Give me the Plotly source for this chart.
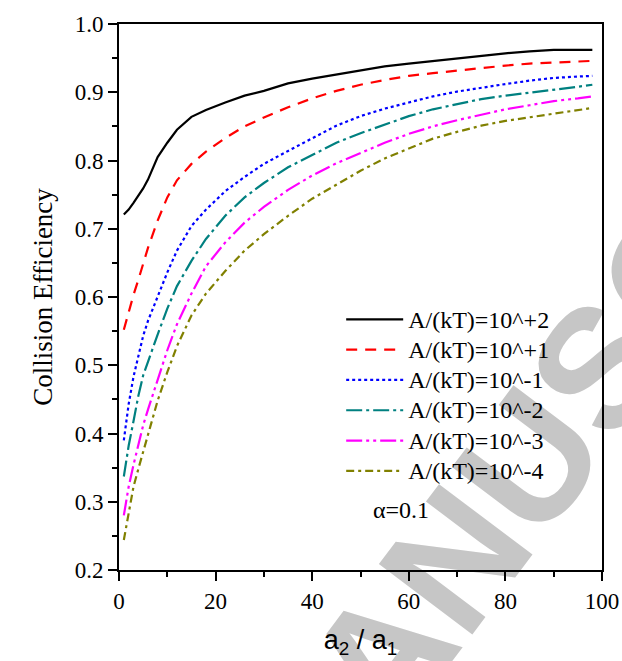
import plotly.graph_objects as go

# ---- data ----
x_ratio = [1, 2, 3, 4, 5, 6, 8, 10, 12, 15, 18, 22, 26, 30, 35, 40, 45, 50,
           55, 60, 65, 70, 75, 80, 85, 90, 95, 98]

eff_p2 = [0.721, 0.728, 0.738, 0.748, 0.759, 0.772, 0.805, 0.826, 0.845, 0.864,
          0.874, 0.885, 0.895, 0.902, 0.913, 0.920, 0.926, 0.933, 0.938, 0.942,
          0.946, 0.950, 0.954, 0.957, 0.960, 0.962, 0.962, 0.962]
eff_p1 = [0.552, 0.578, 0.603, 0.625, 0.649, 0.672, 0.712, 0.746, 0.771, 0.795,
          0.813, 0.833, 0.850, 0.863, 0.878, 0.891, 0.902, 0.911, 0.918, 0.924,
          0.928, 0.932, 0.936, 0.939, 0.942, 0.944, 0.945, 0.946]
eff_m1 = [0.390, 0.443, 0.483, 0.515, 0.543, 0.565, 0.601, 0.636, 0.668, 0.704,
          0.728, 0.755, 0.776, 0.795, 0.814, 0.832, 0.851, 0.865, 0.876, 0.885,
          0.894, 0.901, 0.907, 0.912, 0.917, 0.921, 0.923, 0.924]
eff_m2 = [0.337, 0.382, 0.418, 0.455, 0.485, 0.506, 0.545, 0.583, 0.616, 0.653,
          0.685, 0.719, 0.746, 0.767, 0.790, 0.808, 0.826, 0.840, 0.853, 0.865,
          0.875, 0.883, 0.890, 0.895, 0.899, 0.903, 0.908, 0.911]
eff_m3 = [0.280, 0.322, 0.354, 0.385, 0.412, 0.435, 0.478, 0.522, 0.560, 0.605,
          0.645, 0.680, 0.709, 0.732, 0.757, 0.778, 0.796, 0.811, 0.826, 0.839,
          0.850, 0.859, 0.867, 0.875, 0.881, 0.887, 0.891, 0.894]
eff_m4 = [0.244, 0.282, 0.322, 0.348, 0.373, 0.400, 0.448, 0.490, 0.528, 0.573,
          0.605, 0.638, 0.668, 0.692, 0.719, 0.744, 0.764, 0.785, 0.803, 0.818,
          0.832, 0.842, 0.851, 0.858, 0.863, 0.868, 0.874, 0.877]

series_names = ["A/(kT)=10^+2", "A/(kT)=10^+1", "A/(kT)=10^-1",
                "A/(kT)=10^-2", "A/(kT)=10^-3", "A/(kT)=10^-4"]
series_values = [eff_p2, eff_p1, eff_m1, eff_m2, eff_m3, eff_m4]
series_colors = ["#000000", "#ff0000", "#0000ff", "#008080", "#ff00ff", "#808000"]
series_dashes = ["solid", "11px,8px", "3px,3px", "16px,4px,3px,4px",
                 "16px,4px,3px,4px,3px,4px", "8px,4px,3px,4px"]

x_title = "a<sub>2</sub> / a<sub>1</sub>"
y_title = "Collision Efficiency"
note_text = "α=0.1"
watermark_text = "MANUSCRIPT"

SERIF = "Liberation Serif"
SANS = "Liberation Sans"

fig = go.Figure()
for name, vals, col, dsh in zip(series_names, series_values, series_colors, series_dashes):
    fig.add_trace(go.Scatter(
        x=x_ratio, y=vals, mode="lines",
        name=f"<span style='font-size:24px'>{name}</span>",
        line=dict(color=col, width=2.2, dash=dsh),
    ))

tick_font = dict(family=SERIF, size=23, color="black")

fig.update_xaxes(
    range=[0, 100], dtick=20, tick0=0, automargin=False,
    showline=True, linecolor="black", linewidth=2, mirror=True,
    ticks="outside", ticklen=9, tickwidth=2, tickcolor="black",
    showgrid=False, zeroline=False, tickfont=tick_font,
    minor=dict(ticks="outside", ticklen=5, tickwidth=2, tickcolor="black", dtick=10, showgrid=False),
    title=dict(text=x_title, font=dict(family=SANS, size=27, color="black"), standoff=18),
)
fig.update_yaxes(
    range=[0.2, 1.0], dtick=0.1, tick0=0.2, tickformat=".1f", automargin=False,
    showline=True, linecolor="black", linewidth=2, mirror=True,
    ticks="outside", ticklen=9, tickwidth=2, tickcolor="black",
    showgrid=False, zeroline=False, tickfont=tick_font,
    minor=dict(ticks="outside", ticklen=5, tickwidth=2, tickcolor="black", dtick=0.05, showgrid=False),
    title=dict(text=y_title, font=dict(family=SERIF, size=27, color="black"), standoff=14),
)

fig.add_annotation(
    text=note_text, xref="paper", yref="paper", x=0.584, y=0.110,
    xanchor="center", yanchor="middle",
    showarrow=False, font=dict(family=SERIF, size=24, color="black"),
)

# watermark, drawn beneath the plot
fig.add_shape(
    type="line", xref="paper", yref="paper", layer="below",
    x0=0.920, y0=0.341, x1=1.020, y1=0.439,
    line=dict(width=0, color="rgba(0,0,0,0)"),
    label=dict(text=watermark_text, textangle=-53, textposition="middle",
               xanchor="center", yanchor="middle",
               font=dict(family=SANS, size=170, color="#c6c6c6", weight="bold")),
)

fig.update_layout(
    width=622, height=661,
    margin=dict(l=119, r=20, t=24, b=91),
    paper_bgcolor="white", plot_bgcolor="rgba(0,0,0,0)",
    font=dict(family=SERIF, size=23, color="black"),
    showlegend=True,
    legend=dict(
        x=0.46, y=0.496, xanchor="left", yanchor="top",
        bgcolor="rgba(0,0,0,0)", borderwidth=0,
        font=dict(family=SERIF, size=21, color="black"),
        itemwidth=57, tracegroupgap=0,
    ),
)

fig.write_html("out.html")
